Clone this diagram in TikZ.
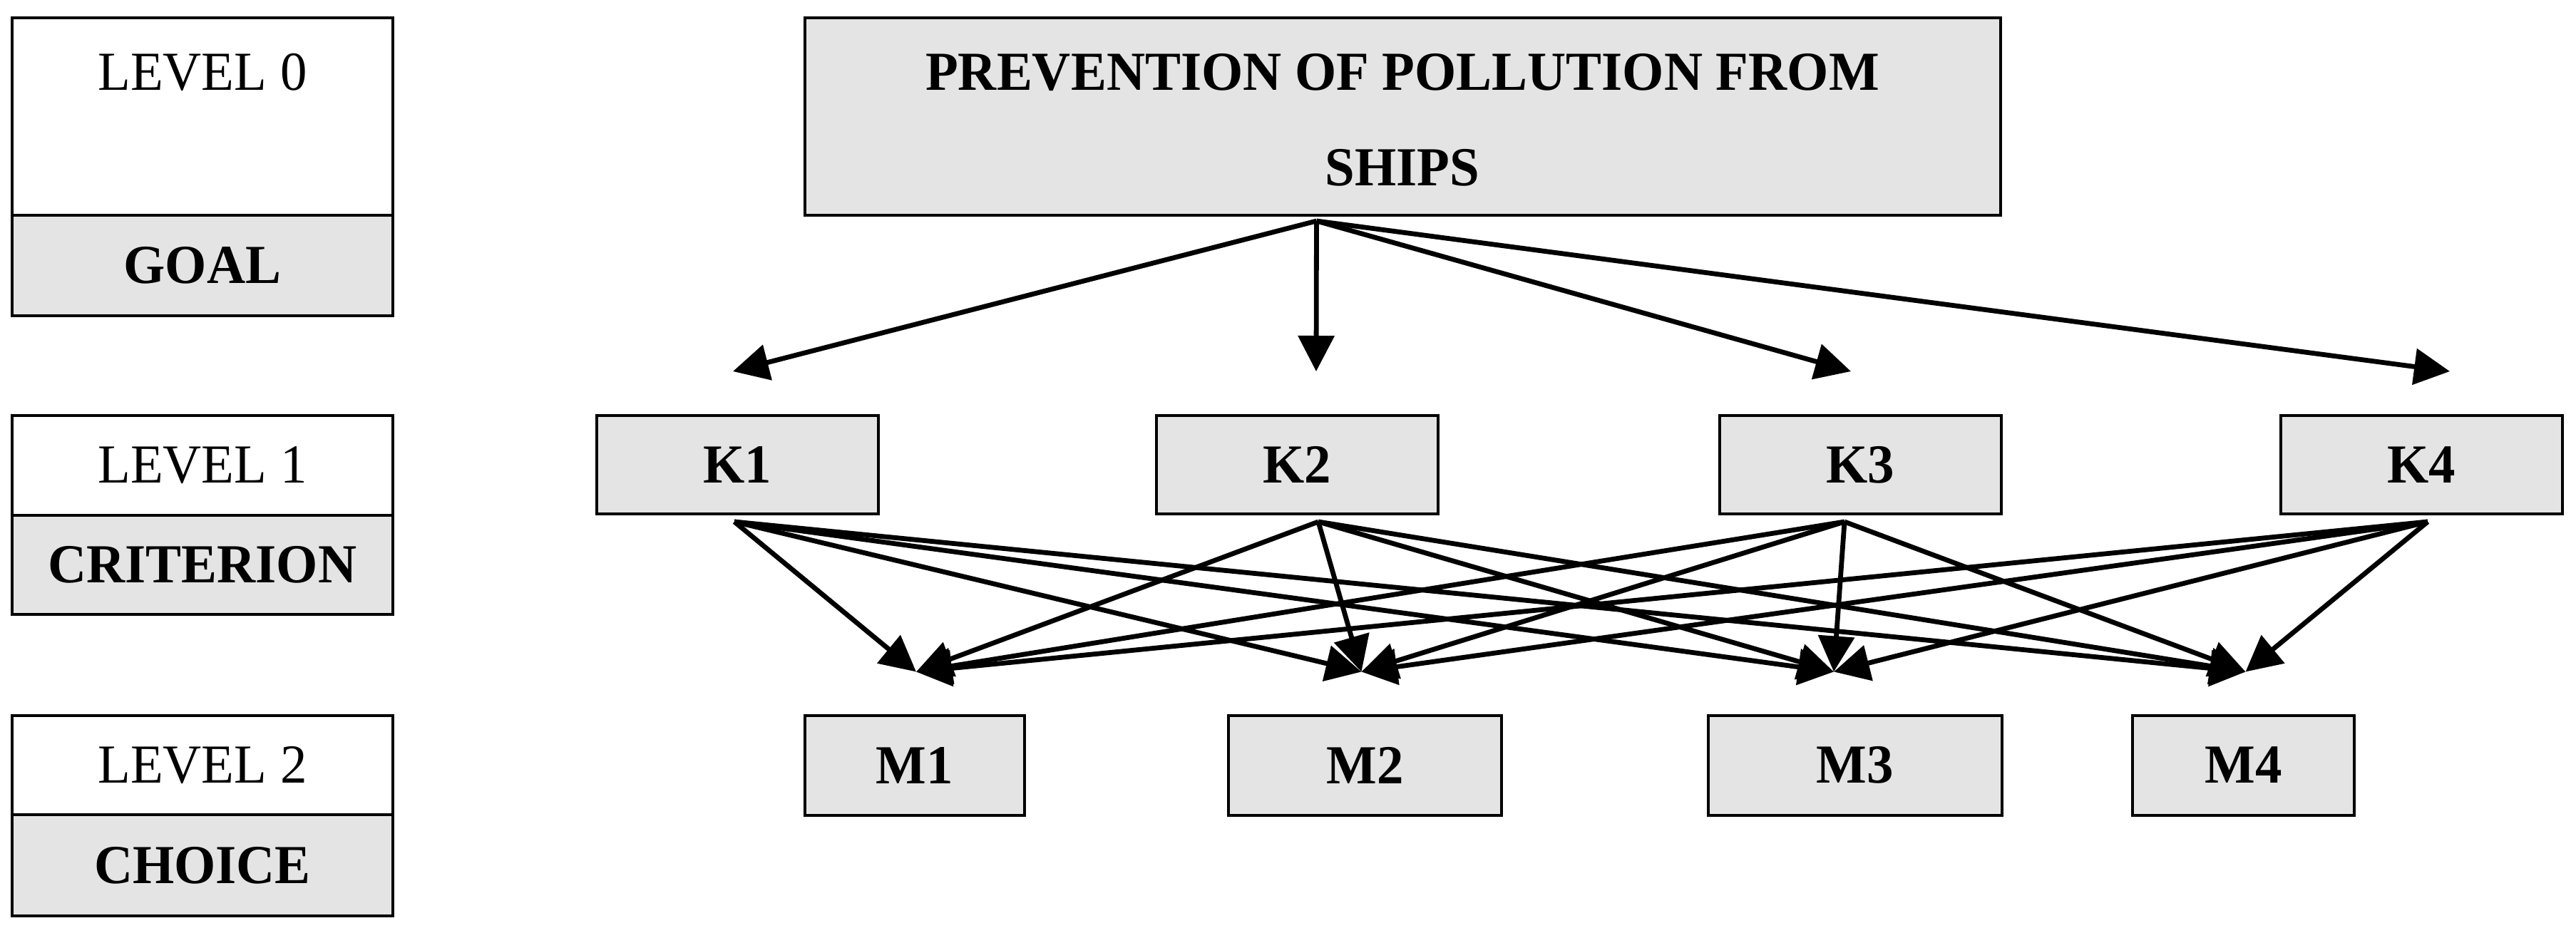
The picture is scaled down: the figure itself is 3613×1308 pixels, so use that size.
\documentclass[tikz,border=0pt]{standalone}
\usepackage{fontspec}
\setmainfont{Liberation Serif}[FakeStretch=0.97]
\usetikzlibrary{arrows.meta,calc}
\definecolor{boxgray}{RGB}{228,228,228}
\newcommand\lblfont{\fontsize{19.3pt}{23pt}\selectfont}
\begin{document}
\begin{tikzpicture}[x=0.25pt,y=-0.25pt,
  every node/.style={inner sep=0pt,outer sep=0pt,font=\lblfont},
  lvwhite/.style={draw,line width=1pt,fill=white,minimum width=534*0.25pt},
  lvgray/.style={draw,line width=1pt,fill=boxgray,minimum width=534*0.25pt,font=\lblfont\bfseries},
  gbox/.style={draw,line width=1pt,fill=boxgray,font=\lblfont\bfseries},
  kbox/.style={gbox,minimum width=395*0.25pt,minimum height=138*0.25pt},
  mbox/.style={gbox,minimum height=140*0.25pt},
  arr/.style={line width=1.7pt,-{Triangle[length=12.5pt,width=12.5pt]}}]
\useasboundingbox (0,0) rectangle (3613,1308);
% level column
\node[lvwhite,minimum height=277*0.25pt] (L0a) at (284,163.5) {};
\node[anchor=base] (L0t) at (284,126) {LEVEL 0};
\node[lvgray,minimum height=141*0.25pt] (L0b) at (284,372.5) {GOAL};
\node[lvwhite,minimum height=140*0.25pt] (L1a) at (284,653) {LEVEL 1};
\node[lvgray,minimum height=139*0.25pt] (L1b) at (284,792.5) {CRITERION};
\node[lvwhite,minimum height=139*0.25pt] (L2a) at (284,1073.5) {LEVEL 2};
\node[lvgray,minimum height=142*0.25pt] (L2b) at (284,1214) {CHOICE};
% goal
\node[gbox,minimum width=1677*0.25pt,minimum height=277*0.25pt] (G) at (1967.5,163.5) {};
\node[anchor=base,font=\lblfont\bfseries] (Gt1) at (1967,126) {PREVENTION OF POLLUTION FROM};
\node[anchor=base,font=\lblfont\bfseries] (Gt2) at (1967,260) {SHIPS};
% criteria
\node[kbox] (K1) at (1034,652) {K1};
\node[kbox] (K2) at (1819,652) {K2};
\node[kbox] (K3) at (2609,652) {K3};
\node[kbox] (K4) at (3396,652) {K4};
% alternatives
\node[mbox,minimum width=308*0.25pt] (M1) at (1283,1073.5) {M1};
\node[mbox,minimum width=383*0.25pt] (M2) at (1914.5,1073.5) {M2};
\node[mbox,minimum width=412*0.25pt] (M3) at (2602,1073.5) {M3};
\node[mbox,minimum width=311*0.25pt] (M4) at (3146.5,1073.5) {M4};
% connector end points
\coordinate (gs) at ($(G.south)+(-121,8)$);
\coordinate (t1) at ($(K1.north)+(-6,-62)$);
\coordinate (t2) at ($(K2.north)+(27,-62)$);
\coordinate (t3) at ($(K3.north)+(-13,-62)$);
\coordinate (t4) at ($(K4.north)+(40,-62)$);
\coordinate (k1) at ($(K1.south)+(-4,11)$);
\coordinate (k2) at ($(K2.south)+(30,11)$);
\coordinate (k3) at ($(K3.south)+(-22,11)$);
\coordinate (k4) at ($(K4.south)+(9,11)$);
\coordinate (m1) at ($(M1.north)+(2,-61)$);
\coordinate (m2) at ($(M2.north)+(-5,-61)$);
\coordinate (m3) at ($(M3.north)+(-30,-61)$);
\coordinate (m4) at ($(M4.north)+(3,-61)$);
\foreach \i in {1,...,4} \draw[arr] (gs) -- (t\i);
\foreach \i in {1,...,4} \foreach \j in {1,...,4} \draw[arr] (k\i) -- (m\j);
\end{tikzpicture}
\end{document}
